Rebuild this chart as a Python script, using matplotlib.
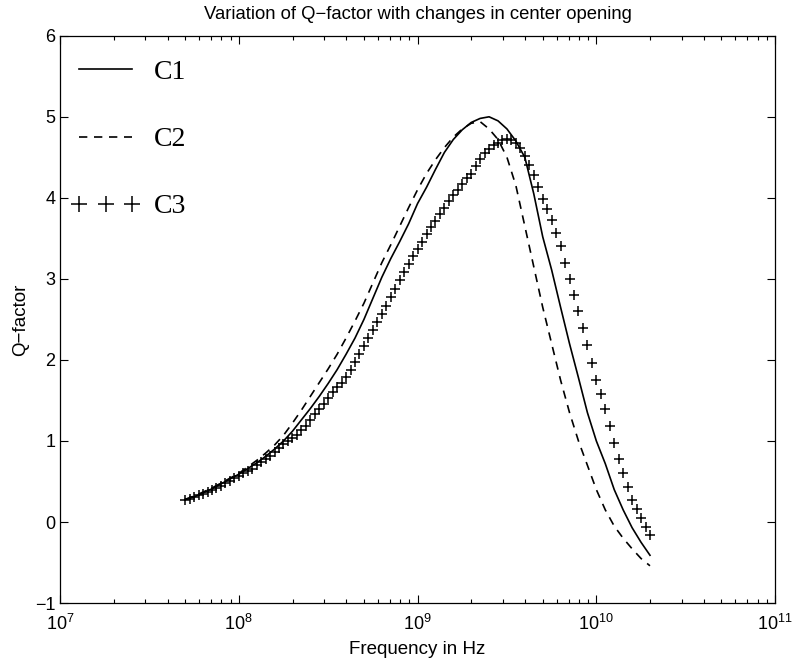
import numpy as np
import matplotlib
matplotlib.use('Agg')
import matplotlib.pyplot as plt
from matplotlib.ticker import LogLocator, NullFormatter

plt.rcParams['font.family'] = ['Liberation Sans', 'DejaVu Sans']

# sweep for C1/C2 (log10 of frequency, 0.05 decade steps from 5e7 to 2e10)
log_f = np.linspace(7.70, 10.30, 53)

q_c1 = [0.28, 0.31, 0.36, 0.41, 0.47, 0.53, 0.59, 0.66, 0.73, 0.81,
        0.90, 1.00, 1.12, 1.26, 1.40, 1.55, 1.71, 1.88, 2.07, 2.27,
        2.50, 2.76, 3.02, 3.25, 3.46, 3.68, 3.93, 4.13, 4.35, 4.56,
        4.72, 4.84, 4.93, 4.98, 5.00, 4.95, 4.85, 4.70, 4.50, 4.05,
        3.52, 3.11, 2.65, 2.20, 1.78, 1.35, 1.00, 0.72, 0.40, 0.15,
        -0.07, -0.25, -0.41]

q_c2 = [0.28, 0.32, 0.37, 0.42, 0.48, 0.54, 0.60, 0.68, 0.76, 0.85,
        0.95, 1.07, 1.22, 1.38, 1.55, 1.72, 1.89, 2.07, 2.27, 2.48,
        2.70, 2.95, 3.20, 3.42, 3.65, 3.88, 4.10, 4.30, 4.47, 4.62,
        4.75, 4.85, 4.92, 4.94, 4.85, 4.72, 4.50, 4.15, 3.65, 3.15,
        2.65, 2.20, 1.75, 1.35, 1.00, 0.70, 0.40, 0.15, -0.05, -0.20,
        -0.33, -0.45, -0.54]

# C3 was sampled more densely (0.025 decade steps)
log_f3 = np.linspace(7.70, 10.30, 105)
q_c3 = [0.27, 0.29, 0.31, 0.33, 0.35, 0.37, 0.40, 0.42, 0.45, 0.48,
        0.51, 0.54, 0.57, 0.60, 0.63, 0.66, 0.70, 0.74, 0.78, 0.82,
        0.87, 0.91, 0.96, 1.00, 1.04, 1.08, 1.13, 1.19, 1.26, 1.33,
        1.40, 1.46, 1.53, 1.60, 1.66, 1.72, 1.79, 1.88, 1.97, 2.07,
        2.17, 2.27, 2.37, 2.47, 2.57, 2.67, 2.78, 2.88, 2.99, 3.08,
        3.18, 3.28, 3.37, 3.46, 3.55, 3.64, 3.72, 3.80, 3.88, 3.96,
        4.03, 4.10, 4.17, 4.24, 4.30, 4.39, 4.48, 4.55, 4.60, 4.65,
        4.68, 4.71, 4.72, 4.71, 4.68, 4.61, 4.52, 4.41, 4.28, 4.13,
        3.98, 3.86, 3.73, 3.57, 3.40, 3.20, 3.00, 2.80, 2.60, 2.39,
        2.18, 1.96, 1.75, 1.58, 1.40, 1.18, 0.97, 0.78, 0.60, 0.43,
        0.27, 0.16, 0.05, -0.06, -0.16]

freq = 10 ** log_f
freq3 = 10 ** log_f3

fig = plt.figure(figsize=(7.95, 6.62), dpi=100)
ax = fig.add_axes([0.0755, 0.089, 0.8995, 0.857])

ax.plot(freq, q_c1, color='black', lw=1.2, label='C1')
ax.plot(freq, q_c2, color='black', lw=1.2, ls=(0, (5, 4)), label='C2')
ax.plot(freq3, q_c3, color='black', ls='none', marker='+', ms=7.5, mew=1.1,
        label='C3')

ax.set_xscale('log')
ax.set_xlim(1e7, 1e11)
ax.set_ylim(-1, 6)
ax.set_yticks(range(-1, 7))
ax.xaxis.set_major_locator(LogLocator(base=10, numticks=10))
ax.xaxis.set_minor_locator(LogLocator(base=10, subs=np.arange(2, 10), numticks=20))
ax.xaxis.set_minor_formatter(NullFormatter())
ax.tick_params(which='both', direction='in', top=True, right=True,
               labelsize=13, width=0.8)
ax.tick_params(axis='x', pad=8)
ax.tick_params(which='major', length=6)
ax.tick_params(which='minor', length=3)
for s in ax.spines.values():
    s.set_linewidth(0.9)

ax.set_xlabel('Frequency in Hz', fontsize=13.5, labelpad=5)
ax.set_ylabel('Q\u2212factor', fontsize=13.5, labelpad=4)
ax.set_title('Variation of Q\u2212factor with changes in center opening',
             fontsize=13.3, pad=12)

ax.legend(loc='upper left', bbox_to_anchor=(-0.012, 0.992), frameon=False,
          numpoints=3, markerscale=1.6, handlelength=2.5, handletextpad=0.5,
          labelspacing=1.5, borderaxespad=0.3,
          prop={'family': 'Liberation Serif', 'size': 20})

fig.savefig('out.png', dpi=100)
